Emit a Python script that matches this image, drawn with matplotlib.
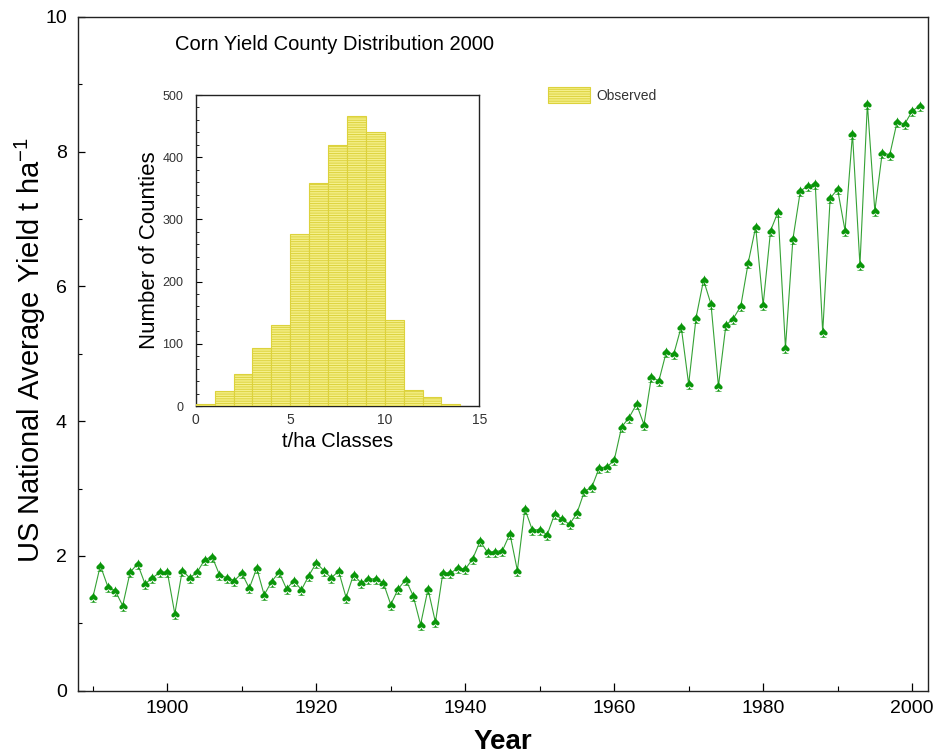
import matplotlib
matplotlib.use("Agg")
import matplotlib.pyplot as plt
import numpy as np
from matplotlib.ticker import MultipleLocator
from matplotlib.patches import Patch

plt.rcParams['font.family'] = ['Liberation Sans', 'DejaVu Sans']
plt.rcParams['mathtext.fontset'] = 'custom'
plt.rcParams['mathtext.rm'] = 'Liberation Sans'
plt.rcParams['hatch.linewidth'] = 0.7
plt.rcParams['hatch.color'] = '#dcd23c'

# ---- data ----
years = list(range(1890, 2002))
yield_t_ha = [
    1.386, 1.857, 1.545, 1.481, 1.263, 1.758, 1.882, 1.585, 1.674, 1.758,   # 1890s
    1.758, 1.139, 1.783, 1.674, 1.758, 1.942, 1.991, 1.719, 1.674, 1.634,   # 1900s
    1.743, 1.520, 1.818, 1.421, 1.620, 1.758, 1.511, 1.634, 1.496, 1.709,   # 1910s
    1.897, 1.783, 1.674, 1.773, 1.382, 1.724, 1.600, 1.659, 1.659, 1.600,   # 1920s
    1.278, 1.511, 1.649, 1.412, 0.981, 1.506, 1.015, 1.753, 1.743, 1.818,   # 1930s
    1.803, 1.956, 2.219, 2.051, 2.065, 2.080, 2.328, 1.783, 2.699, 2.387,   # 1940s
    2.387, 2.313, 2.620, 2.546, 2.467, 2.635, 2.957, 3.021, 3.309, 3.318,   # 1950s
    3.418, 3.913, 4.052, 4.250, 3.948, 4.655, 4.596, 5.027, 4.993, 5.399,   # 1960s
    4.547, 5.537, 6.092, 5.735, 4.517, 5.423, 5.522, 5.706, 6.350, 6.880,   # 1970s
    5.721, 6.825, 7.103, 5.087, 6.701, 7.415, 7.489, 7.519, 5.315, 7.306,   # 1980s
    7.440, 6.825, 8.262, 6.315, 8.707, 7.117, 7.984, 7.949, 8.445, 8.405,   # 1990s
    8.598, 8.677,                                                           # 2000s
]

class_edges = list(range(0, 14))          # left edges of t/ha classes
county_counts = [3, 24, 51, 94, 130, 276, 359, 420, 466, 440, 139, 26, 15, 4]

main_title = "Corn Yield County Distribution 2000"
legend_label = "Observed"

# ---- figure ----
W, H = 945, 756
fig = plt.figure(figsize=(W / 100, H / 100), dpi=100)

ax = fig.add_axes([78 / W, 1 - 690.7 / H, (927.7 - 78) / W, (690.7 - 16.7) / H])
line_color = '#35a235'
mark_color = '#0a960a'
ax.plot(years, yield_t_ha, color=line_color, lw=0.8, zorder=2)
ax.plot(years, yield_t_ha, linestyle='none', marker='$\u2660$', markersize=7.5,
        color=mark_color, markeredgewidth=0, zorder=3)

ax.set_xlim(1888, 2002.1)
ax.set_ylim(0, 10)
ax.xaxis.set_major_locator(MultipleLocator(20))
ax.xaxis.set_minor_locator(MultipleLocator(10))
ax.yaxis.set_major_locator(MultipleLocator(2))
ax.yaxis.set_minor_locator(MultipleLocator(1))
ax.set_xticks([1900, 1920, 1940, 1960, 1980, 2000])
ax.tick_params(axis='both', which='both', direction='in', top=False, right=False)
ax.tick_params(axis='x', which='major', length=6, width=0.9, labelsize=14, pad=7)
ax.tick_params(axis='x', which='minor', length=3.5, width=0.8)
ax.tick_params(axis='y', which='major', length=5, width=0.9, labelsize=14, pad=8)
ax.tick_params(axis='y', which='minor', length=3, width=0.8)
for s in ax.spines.values():
    s.set_linewidth(1.0)
    s.set_color('#222222')

ax.set_xlabel("Year", fontsize=20, fontweight='bold')
ax.xaxis.set_label_coords(0.5, (690.7 - 742) / 674)
ax.xaxis.label.set_va('center')
ax.set_ylabel("US National Average Yield t ha$^{\\mathrm{-1}}$", fontsize=21)
ax.yaxis.set_label_coords((30 - 78) / 849.7, (690.7 - 350) / 674)
ax.yaxis.label.set_va('center')

fig.text(175 / W, 1 - 45 / H, main_title, fontsize=14.5, va='center', ha='left')

# ---- inset histogram ----
bar_face = '#f5f08a'
bar_edge = '#dcd23c'
axin = fig.add_axes([195.7 / W, 1 - 406 / H, (479.3 - 195.7) / W, (406 - 95) / H])
axin.bar(class_edges, county_counts, width=1.0, align='edge', facecolor=bar_face,
         edgecolor=bar_edge, linewidth=0.8, hatch='-------', zorder=3)
axin.set_xlim(0, 15)
axin.set_ylim(0, 500)
axin.set_xticks([0, 5, 10, 15])
axin.yaxis.set_major_locator(MultipleLocator(100))
axin.yaxis.set_minor_locator(MultipleLocator(20))
axin.tick_params(axis='both', which='both', direction='in', top=False, right=False)
axin.tick_params(axis='y', which='major', length=4, width=0.8, labelsize=9, pad=9,
                 labelcolor='#333333')
axin.tick_params(axis='y', which='minor', length=2, width=0.6)
axin.tick_params(axis='x', which='major', length=0, labelsize=10, pad=5,
                 labelcolor='#333333')
for s in axin.spines.values():
    s.set_linewidth(1.0)
    s.set_color('#222222')
axin.set_ylabel("Number of Counties", fontsize=16)
axin.yaxis.set_label_coords((149.5 - 195.7) / 283.6, 0.5)
axin.yaxis.label.set_va('center')
axin.set_xlabel("t/ha Classes", fontsize=14.5)
axin.xaxis.set_label_coords(0.5, (406 - 441.7) / 311)
axin.xaxis.label.set_va('center')

# legend
handle = Patch(facecolor=bar_face, edgecolor=bar_edge, hatch='-------', linewidth=0.8)
fig.legend([handle], [legend_label], loc='center left',
           bbox_to_anchor=(548 / W, 1 - 95 / H), frameon=False, fontsize=10,
           handlelength=3.0, handleheight=1.4, handletextpad=0.5,
           borderpad=0, borderaxespad=0, labelcolor='#333333')

fig.savefig("out.png", dpi=100)
